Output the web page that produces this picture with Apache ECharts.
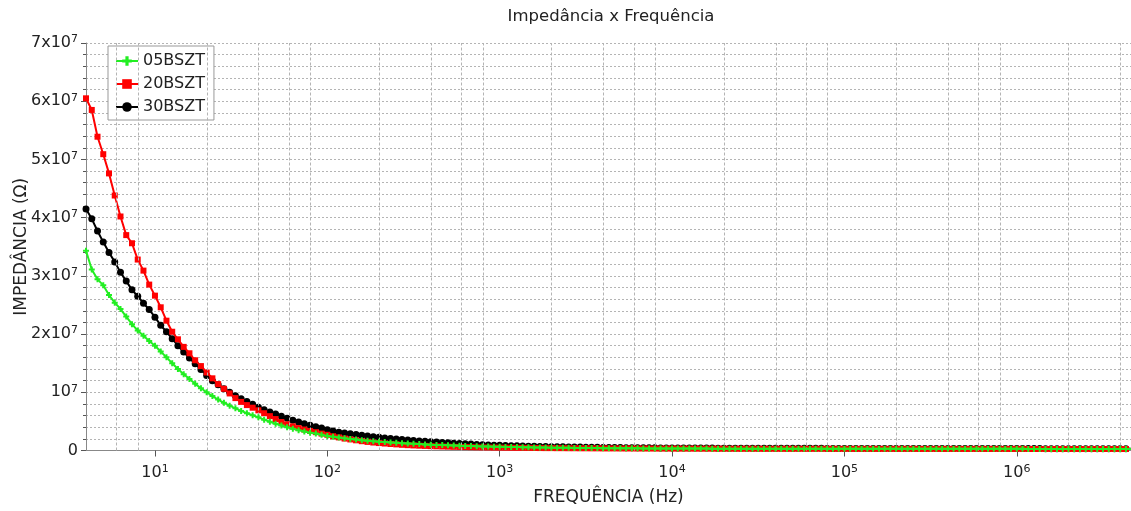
<!DOCTYPE html>
<html><head><meta charset="utf-8">
<script src="https://cdn.jsdelivr.net/npm/echarts@6/dist/echarts.min.js"></script>
<style>html,body{margin:0;padding:0;background:#fff}#c{width:1131px;height:511px}</style>
</head><body><div id="c"></div>
<script>
// Frequencies (Hz)
const freq = [
3.981,4.299,4.642,5.012,5.412,5.843,6.310,6.813,7.356,7.943,8.577,9.261,
10,10.80,11.66,12.59,13.59,14.68,15.85,17.11,18.48,19.95,21.54,23.26,25.12,27.12,29.29,31.62,34.15,36.87,39.81,42.99,46.42,50.12,54.12,58.43,63.10,68.13,73.56,79.43,85.77,92.61,
100,108.0,116.6,125.9,135.9,146.8,158.5,171.1,184.8,199.5,215.4,232.6,251.2,271.2,292.9,316.2,341.5,368.7,398.1,429.9,464.2,501.2,541.2,584.3,631.0,681.3,735.6,794.3,857.7,926.1,
1000,1080,1166,1259,1359,1468,1585,1711,1848,1995,2154,2326,2512,2712,2929,3162,3415,3687,3981,4299,4642,5012,5412,5843,6310,6813,7356,7943,8577,9261,
1.0e4,1.080e4,1.166e4,1.259e4,1.359e4,1.468e4,1.585e4,1.711e4,1.848e4,1.995e4,2.154e4,2.326e4,2.512e4,2.712e4,2.929e4,3.162e4,3.415e4,3.687e4,3.981e4,4.299e4,4.642e4,5.012e4,5.412e4,5.843e4,6.310e4,6.813e4,7.356e4,7.943e4,8.577e4,9.261e4,
1.0e5,1.080e5,1.166e5,1.259e5,1.359e5,1.468e5,1.585e5,1.711e5,1.848e5,1.995e5,2.154e5,2.326e5,2.512e5,2.712e5,2.929e5,3.162e5,3.415e5,3.687e5,3.981e5,4.299e5,4.642e5,5.012e5,5.412e5,5.843e5,6.310e5,6.813e5,7.356e5,7.943e5,8.577e5,9.261e5,
1.0e6,1.080e6,1.166e6,1.259e6,1.359e6,1.468e6,1.585e6,1.711e6,1.848e6,1.995e6,2.154e6,2.326e6,2.512e6,2.712e6,2.929e6,3.162e6,3.415e6,3.687e6,3.981e6,4.299e6,4.642e6
];
// Impedance values in units of 10^6 Ohm
const z05 = [
34.3,31.1,29.4,28.4,26.7,25.4,24.3,23.0,21.7,20.6,19.7,18.8,
18.0,17.0,16.0,15.0,14.0,13.1,12.3,11.45,10.7,10.0,
9.35,8.75,8.2,7.7,7.25,6.8,6.4,6.05,5.7,5.3,
4.95,4.6,4.3,4.0,3.75,3.5,3.25,3.07,2.9,2.7,
2.5,2.35,2.22,2.1,1.98,1.88,
1.78,1.69,1.6,1.52,1.45,1.38,1.32,1.26,1.2,1.15,1.1,1.05,1.0,
0.96,0.93,0.89,0.86,0.82,0.79,0.76,0.73,0.7,0.68,
0.66,0.64,0.62,0.6,0.58,0.56,0.55,0.53,0.52,0.5,
0.49,0.48,0.47,0.46,0.45,0.44,0.43,0.42,0.41,0.4,
0.39,0.39,0.38,0.38,0.37,0.37,0.36,0.36,0.35,0.35,
0.35,0.34,0.34,0.34,0.33,0.33,0.33,0.33,0.32,0.32,
0.32,0.32,0.31,0.31,0.31,0.31,0.31,0.3,0.3,0.3,
0.3,0.3,0.3,0.3,0.3,0.3,0.3,0.3,0.3,0.3,
0.29,0.29,0.29,0.29,0.29,0.29,0.29,0.29,0.29,0.29,0.29,0.29,0.29,0.29,
0.28,0.28,0.28,0.28,0.28,0.28,0.28,0.28,0.28,0.28,0.28,0.28,0.28,0.28,0.28,0.28,0.28,0.28,0.28,
0.27,0.27,0.27,0.27,0.27,0.27,0.27,0.27,0.27,0.27,0.27,0.27,0.27,0.27,0.27,0.27,0.27,0.27,0.27
];
const z20 = [
60.5,58.5,53.9,50.9,47.6,43.8,40.2,37.0,35.6,32.8,30.9,28.5,
26.6,24.6,22.3,20.4,19.1,17.8,16.7,15.5,14.5,13.4,
12.4,11.4,10.6,9.8,9.0,8.35,7.8,7.35,6.9,6.4,
5.9,5.4,4.9,4.5,4.15,3.85,3.6,3.35,3.15,2.9,
2.7,2.45,2.25,2.05,1.9,1.75,
1.6,1.48,1.37,1.28,1.2,1.12,1.05,0.98,0.92,0.87,0.83,0.79,0.75,
0.72,0.69,0.66,0.63,0.61,0.59,0.57,0.55,0.53,0.52,
0.5,0.49,0.48,0.47,0.46,0.45,0.44,0.43,0.42,0.41,
0.41,0.4,0.4,0.39,0.39,0.38,0.38,0.37,0.37,0.36,
0.36,0.36,0.35,0.35,0.35,0.34,0.34,0.34,0.33,0.33,
0.33,0.33,0.32,0.32,0.32,0.32,0.31,0.31,0.31,0.31,
0.31,0.3,0.3,0.3,0.3,0.3,0.3,0.29,0.29,0.29,
0.29,0.29,0.29,0.29,0.29,0.29,0.29,0.29,0.29,0.29,
0.28,0.28,0.28,0.28,0.28,0.28,0.28,0.28,0.28,0.28,0.28,0.28,0.28,0.28,
0.27,0.27,0.27,0.27,0.27,0.27,0.27,0.27,0.27,0.27,0.27,0.27,0.27,0.27,0.27,0.27,0.27,0.27,0.27,
0.26,0.26,0.26,0.26,0.26,0.26,0.26,0.26,0.26,0.26,0.26,0.26,0.26,0.26,0.26,0.26,0.26,0.26,0.26
];
const z30 = [
41.5,39.8,37.7,35.8,34.0,32.4,30.6,29.1,27.6,26.5,25.3,24.2,
22.9,21.5,20.4,19.2,18.0,16.9,15.9,14.9,13.9,12.9,
12.0,11.3,10.6,10.0,9.4,8.9,8.4,7.95,7.45,7.0,
6.6,6.25,5.9,5.55,5.2,4.9,4.6,4.35,4.1,3.85,
3.55,3.35,3.15,3.0,2.88,2.75,
2.6,2.48,2.37,2.26,2.15,2.06,1.97,1.88,1.8,1.72,1.65,1.57,1.5,
1.44,1.38,1.32,1.26,1.2,1.15,1.1,1.05,1.0,0.95,
0.92,0.89,0.86,0.83,0.8,0.78,0.75,0.73,0.7,0.68,
0.66,0.65,0.63,0.62,0.6,0.59,0.57,0.56,0.54,0.52,
0.51,0.51,0.5,0.49,0.48,0.48,0.47,0.46,0.46,0.45,
0.45,0.44,0.44,0.43,0.43,0.42,0.42,0.41,0.41,0.4,
0.4,0.4,0.39,0.39,0.39,0.38,0.38,0.38,0.37,0.37,
0.37,0.37,0.37,0.37,0.37,0.37,0.37,0.37,
0.36,0.36,0.36,0.36,0.36,0.36,0.36,0.36,0.36,0.36,
0.35,0.35,0.35,0.35,0.35,0.35,0.35,0.35,0.35,0.35,
0.34,0.34,0.34,0.34,0.34,0.34,0.34,0.34,0.34,0.34,
0.33,0.33,0.33,0.33,0.33,0.33,0.33,0.33,
0.32,0.32,0.32,0.32,0.32,0.32,0.32,0.32,
0.31,0.31,0.31,0.31,0.31,0.31,0.31,0.31
];
const seriesNames = ['05BSZT','20BSZT','30BSZT'];
const xMajorTicks = [10,100,1000,1e4,1e5,1e6];
const xMinorTicks = [6,8,20,40,60,80,200,400,600,800,2000,4000,6000,8000,2e4,4e4,6e4,8e4,2e5,4e5,6e5,8e5,2e6,4e6];
const yMax = 70, yStep = 10; // 10^6 Ohm units

const FONT = 'DejaVu Sans';
const X_MIN = 3.98, X_MAX = 4.6e6;
const GRID_COLOR = '#b4b4b4';
const rich = { sup: { fontSize: 11, verticalAlign: 'top', lineHeight: 11, fontFamily: FONT, color: '#222' } };
const pairs = arr => freq.map((f, i) => [f, arr[i]]);
const plus = 'path://M2,0H4V2H6V4H4V6H2V4H0V2H2Z';

const chart = echarts.init(document.getElementById('c'), null, { renderer: 'canvas' });
chart.setOption({
  animation: false,
  backgroundColor: '#fff',
  title: { text: 'Impedância x Frequência', left: 611, top: 8, padding: 0, textAlign: 'center',
    textStyle: { fontFamily: FONT, fontSize: 16.5, fontWeight: 'normal', color: '#222' } },
  legend: { orient: 'vertical', left: 108, top: 46, padding: [7, 9, 5, 7], itemGap: 7,
    itemWidth: 22, itemHeight: 12, borderColor: '#999', borderWidth: 1, borderRadius: 0,
    backgroundColor: '#fff', data: seriesNames,
    textStyle: { fontFamily: FONT, fontSize: 16, color: '#222' } },
  grid: { left: 86, right: 0, top: 43, bottom: 60.5, containLabel: false, outerBoundsMode: 'none' },
  xAxis: {
    type: 'log', min: X_MIN, max: X_MAX,
    name: 'FREQUÊNCIA (Hz)', nameLocation: 'middle', nameGap: 39, nameMoveOverlap: false,
    nameTextStyle: { fontFamily: FONT, fontSize: 17, color: '#222' },
    axisLine: { show: true, lineStyle: { color: '#888' } },
    axisTick: { show: true, customValues: xMajorTicks, length: 6, lineStyle: { color: '#555' } },
    axisLabel: { customValues: xMajorTicks, margin: 13, fontFamily: FONT, fontSize: 16, color: '#222', lineHeight: 18, rich,
      formatter: v => '10{sup|' + Math.round(Math.log10(v)) + '}' },
    splitLine: { show: false }, minorTick: { show: false }, minorSplitLine: { show: false }
  },
  yAxis: {
    type: 'value', min: 0, max: yMax, interval: yStep,
    name: 'IMPEDÂNCIA (Ω)', nameLocation: 'middle', nameGap: 56, nameMoveOverlap: false,
    nameTextStyle: { fontFamily: FONT, fontSize: 17, color: '#222' },
    axisLine: { show: true, lineStyle: { color: '#888' } },
    axisTick: { show: true, length: 5, lineStyle: { color: '#555' } },
    minorTick: { show: true, splitNumber: 5, length: 3, lineStyle: { color: '#555' } },
    splitLine: { show: true, lineStyle: { color: GRID_COLOR, type: [2, 2] } },
    minorSplitLine: { show: true, lineStyle: { color: GRID_COLOR, type: [2, 2] } },
    axisLabel: { margin: 8, fontFamily: FONT, fontSize: 16, color: '#222', lineHeight: 18, rich,
      formatter: v => v === 0 ? '0' : (v === 10 ? '10{sup|7}' : (v / 10) + 'x10{sup|7}') }
  },
  series: [
    { type: 'line', data: [], z: 1, silent: true,
      markLine: { silent: true, symbol: ['none', 'none'], label: { show: false }, animation: false,
        emphasis: { disabled: true },
        lineStyle: { color: GRID_COLOR, type: [3, 2], width: 1 },
        data: xMinorTicks.map(v => ({ xAxis: v })) } },
    { name: seriesNames[0], type: 'line', data: pairs(z05), z: 5, symbol: plus, symbolSize: 6,
      showAllSymbol: true, color: '#22ee22', lineStyle: { width: 2, color: '#22ee22' }, itemStyle: { color: '#22ee22' } },
    { name: seriesNames[1], type: 'line', data: pairs(z20), z: 4, symbol: 'rect', symbolSize: 6,
      showAllSymbol: true, color: '#ff0000', lineStyle: { width: 2, color: '#ff0000' }, itemStyle: { color: '#ff0000' } },
    { name: seriesNames[2], type: 'line', data: pairs(z30), z: 3, symbol: 'circle', symbolSize: 7,
      showAllSymbol: true, color: '#000000', lineStyle: { width: 2, color: '#000000' }, itemStyle: { color: '#000000' } }
  ]
});
</script></body></html>
